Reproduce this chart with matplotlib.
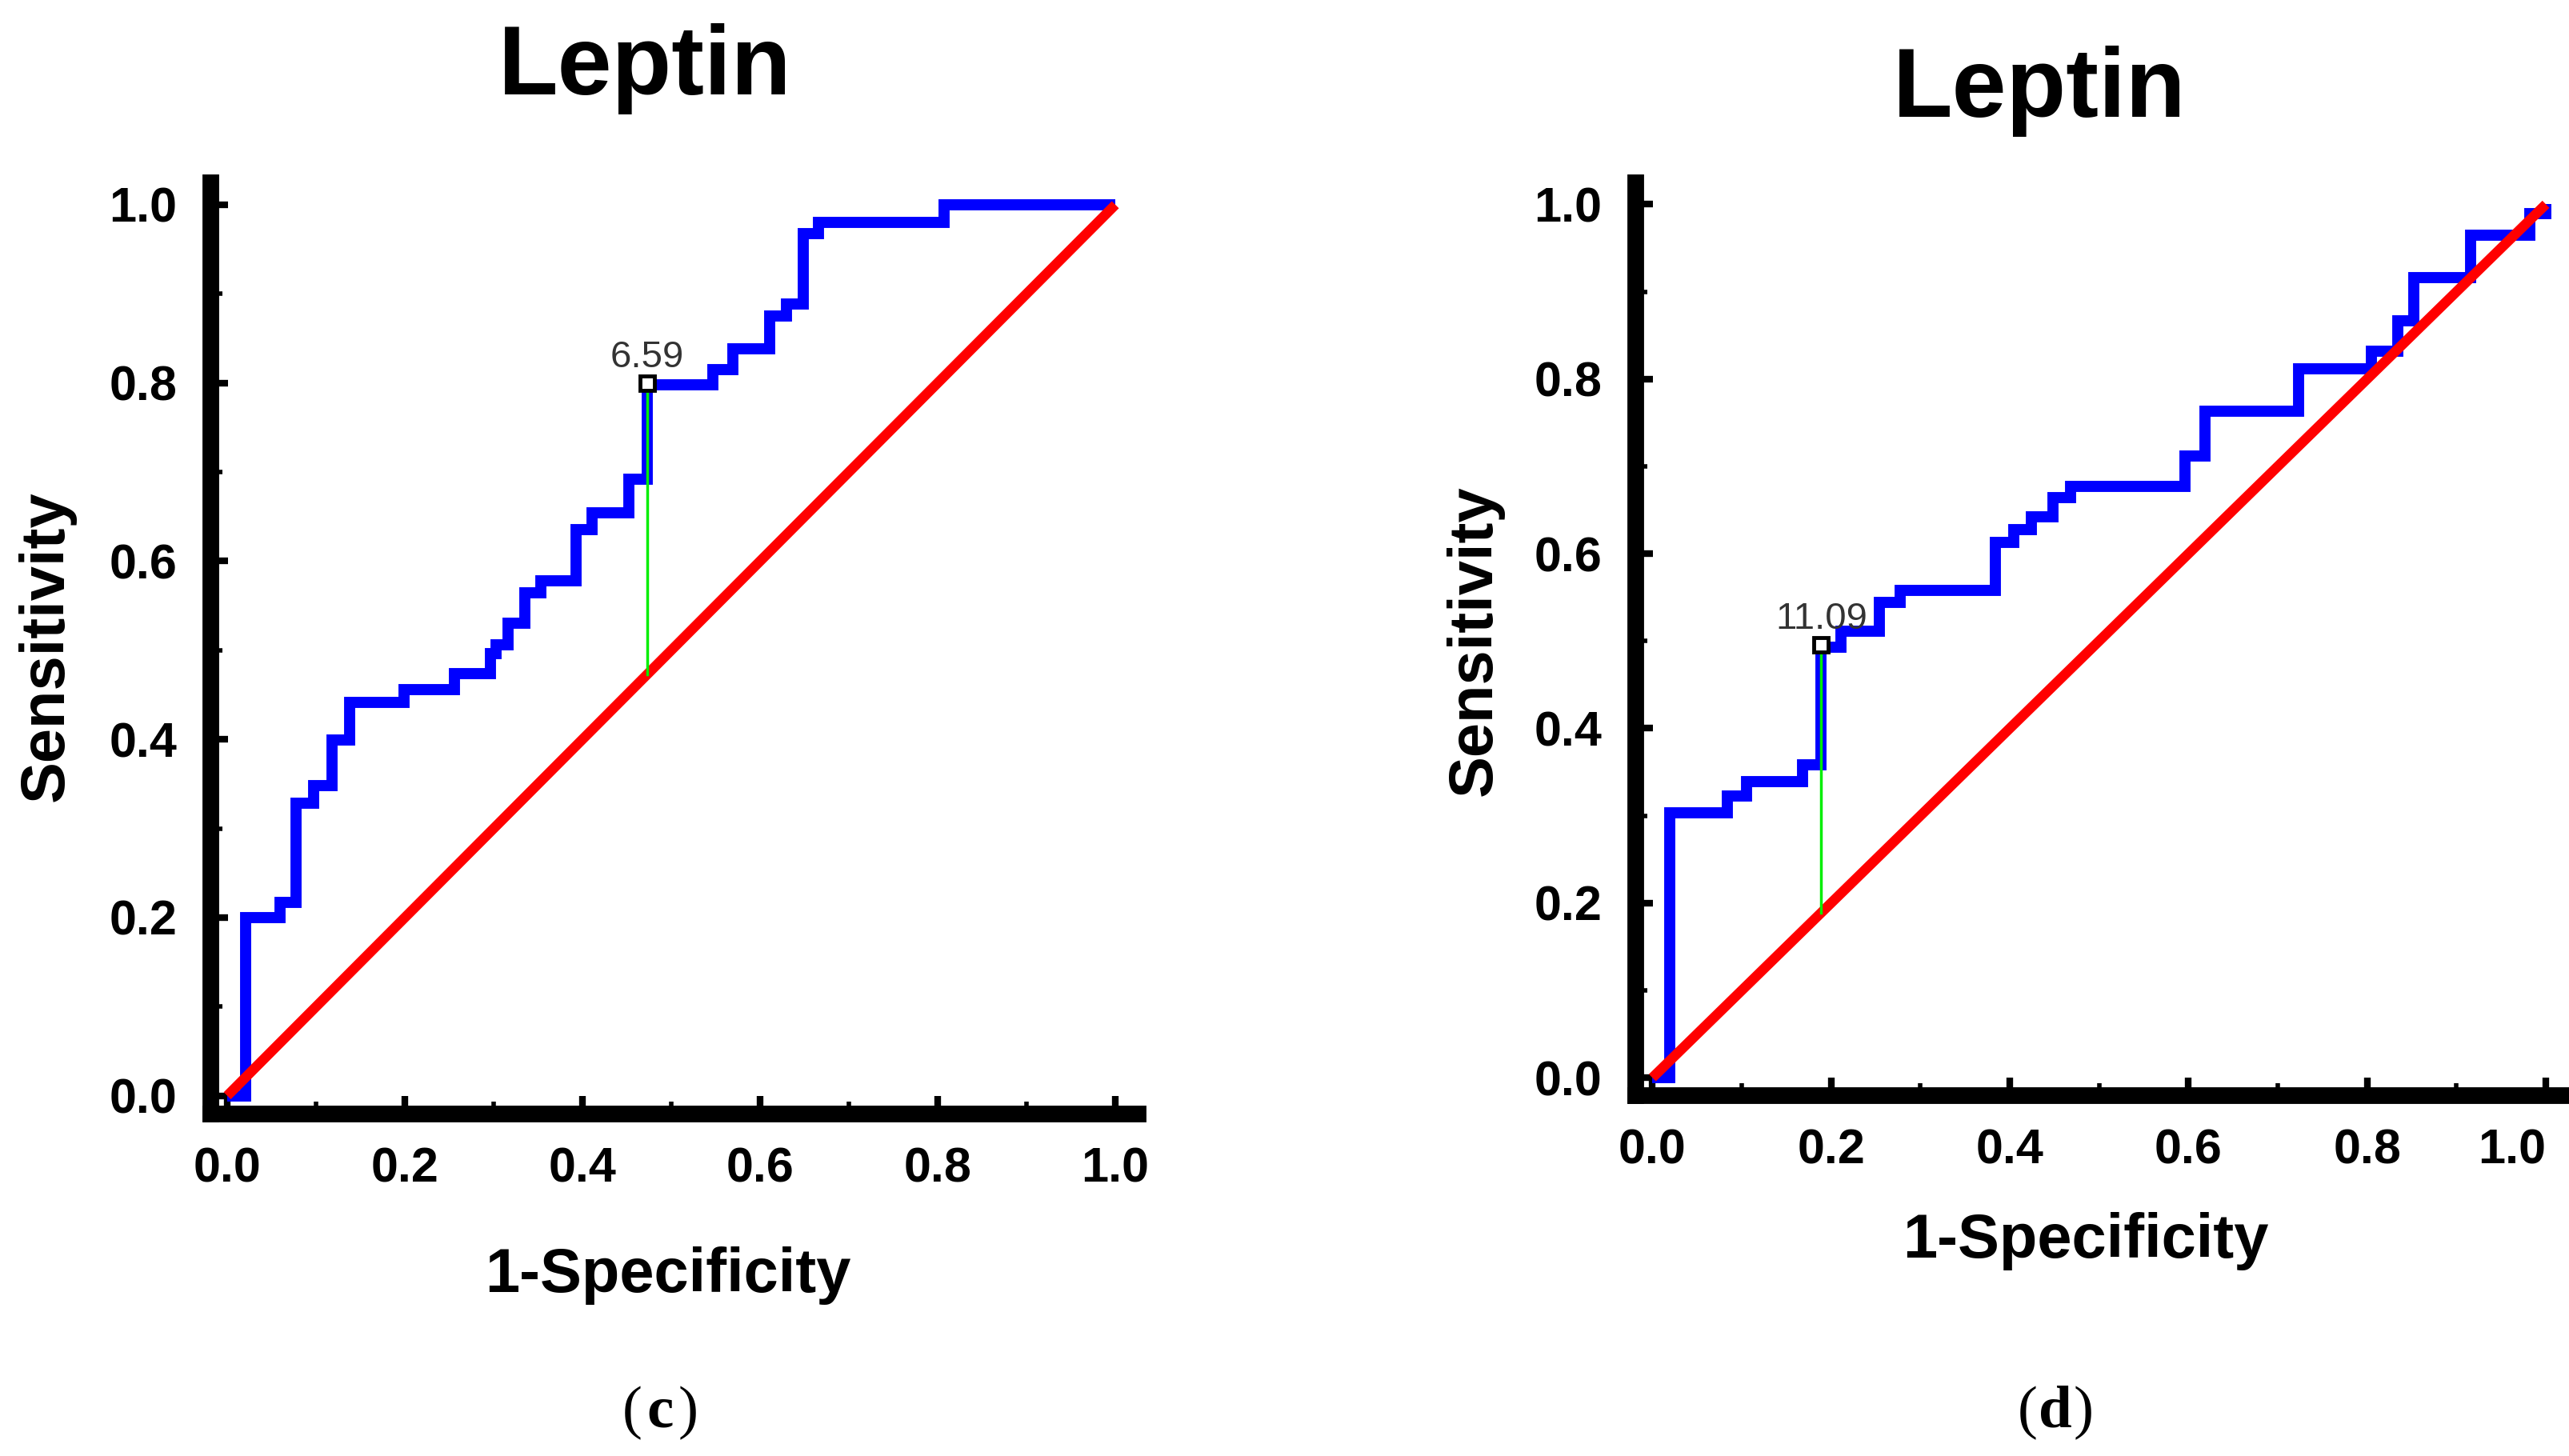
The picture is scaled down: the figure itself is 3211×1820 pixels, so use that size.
import matplotlib.pyplot as plt
from matplotlib.ticker import MultipleLocator

plt.rcParams['font.family'] = ['Liberation Sans', 'DejaVu Sans']

# panel (c): step corners of the ROC curve (1-specificity, sensitivity)
fpr_c = [0.0, 0.021, 0.059, 0.077, 0.097, 0.118, 0.138, 0.199, 0.256, 0.296, 0.303,
         0.316, 0.335, 0.353, 0.393, 0.411, 0.452, 0.473, 0.547, 0.569, 0.611,
         0.630, 0.649, 0.666, 0.807, 1.0]
tpr_c = [0.0, 0.200, 0.217, 0.328, 0.348, 0.399, 0.441, 0.456, 0.474, 0.496, 0.506,
         0.530, 0.564, 0.578, 0.635, 0.654, 0.692, 0.798, 0.815, 0.838, 0.875,
         0.889, 0.968, 0.980, 1.0, 1.0]
cut_c = (0.473, 0.800, '6.59')

# panel (d)
fpr_d = [0.0, 0.019, 0.084, 0.105, 0.168, 0.189, 0.211, 0.254, 0.277, 0.384, 0.404,
         0.424, 0.448, 0.468, 0.596, 0.618, 0.723, 0.805, 0.834, 0.852, 0.916,
         0.982, 1.0]
tpr_d = [0.0, 0.303, 0.323, 0.339, 0.358, 0.493, 0.511, 0.544, 0.558, 0.613, 0.628,
         0.642, 0.664, 0.677, 0.712, 0.763, 0.812, 0.832, 0.867, 0.916, 0.965,
         0.989, 1.0]
cut_d = (0.189, 0.496, '11.09')

ticks = [0.0, 0.2, 0.4, 0.6, 0.8, 1.0]

fig = plt.figure(figsize=(32.11, 18.20), dpi=100)
ax_c = fig.add_axes([0.0819, 0.2352, 0.3609, 0.6395])
ax_d = fig.add_axes([0.6366, 0.2478, 0.3631, 0.6269])


def roc_panel(ax, fpr, tpr, cut):
    ax.plot(fpr, tpr, drawstyle='steps-post', color='#0000ff', lw=10,
            solid_joinstyle='miter', solid_capstyle='butt', zorder=2)
    ax.plot([0, 1], [0, 1], color='#ff0000', lw=9, solid_capstyle='butt', zorder=3)
    cx, cy, lab = cut
    ax.plot([cx, cx], [cx, cy], color='#00ee00', lw=2.5, zorder=4)
    ax.plot([cx], [cy], marker='s', ms=13, mfc='white', mec='black', mew=3.5, zorder=5)
    ax.annotate(lab, (cx, cy), xytext=(0, 7), textcoords='offset points',
                ha='center', va='bottom', fontsize=34, color='#333333', zorder=6)
    ax.set_xlim(-0.019, 1.025)
    ax.set_ylim(-0.02, 1.025)
    for side in ('top', 'right'):
        ax.spines[side].set_visible(False)
    for side in ('left', 'bottom'):
        ax.spines[side].set_linewidth(15)
        ax.spines[side].set_capstyle('projecting')
    ax.set_xticks(ticks)
    ax.set_yticks(ticks)
    ax.xaxis.set_minor_locator(MultipleLocator(0.1))
    ax.yaxis.set_minor_locator(MultipleLocator(0.1))
    ax.tick_params(which='major', direction='in', length=16, width=6, pad=30,
                   labelsize=44)
    ax.tick_params(which='minor', direction='in', length=11, width=4)
    ax.set_xticklabels(['%.1f' % t for t in ticks], fontweight='bold')
    ax.set_yticklabels(['%.1f' % t for t in ticks], fontweight='bold')


roc_panel(ax_c, fpr_c, tpr_c, cut_c)
roc_panel(ax_d, fpr_d, tpr_d, cut_d)
# the last x label of (d) sits against the right edge
ax_d.get_xticklabels()[-1].set_horizontalalignment('right')

# titles and axis labels
fig.text(0.251, 0.935, 'Leptin', ha='center', va='baseline', fontsize=88, fontweight='bold')
fig.text(0.794, 0.920, 'Leptin', ha='center', va='baseline', fontsize=88, fontweight='bold')
fig.text(0.260, 0.1126, '1-Specificity', ha='center', va='baseline', fontsize=56, fontweight='bold')
fig.text(0.812, 0.136, '1-Specificity', ha='center', va='baseline', fontsize=56, fontweight='bold')
fig.text(0.018, 0.556, 'Sensitivity', ha='center', va='center', rotation=90,
         fontsize=56, fontweight='bold')
fig.text(0.574, 0.560, 'Sensitivity', ha='center', va='center', rotation=90,
         fontsize=56, fontweight='bold')

# panel letters
for xc, letter in ((0.257, 'c'), (0.800, 'd')):
    fig.text(xc, 0.0297, letter, ha='center', va='center', fontsize=54,
             fontweight='bold', family='Liberation Serif')
    fig.text(xc - 0.007, 0.0297, '(', ha='right', va='center', fontsize=54,
             family='Liberation Serif')
    fig.text(xc + 0.007, 0.0297, ')', ha='left', va='center', fontsize=54,
             family='Liberation Serif')

fig.savefig('out.png', dpi=100, facecolor='white')
